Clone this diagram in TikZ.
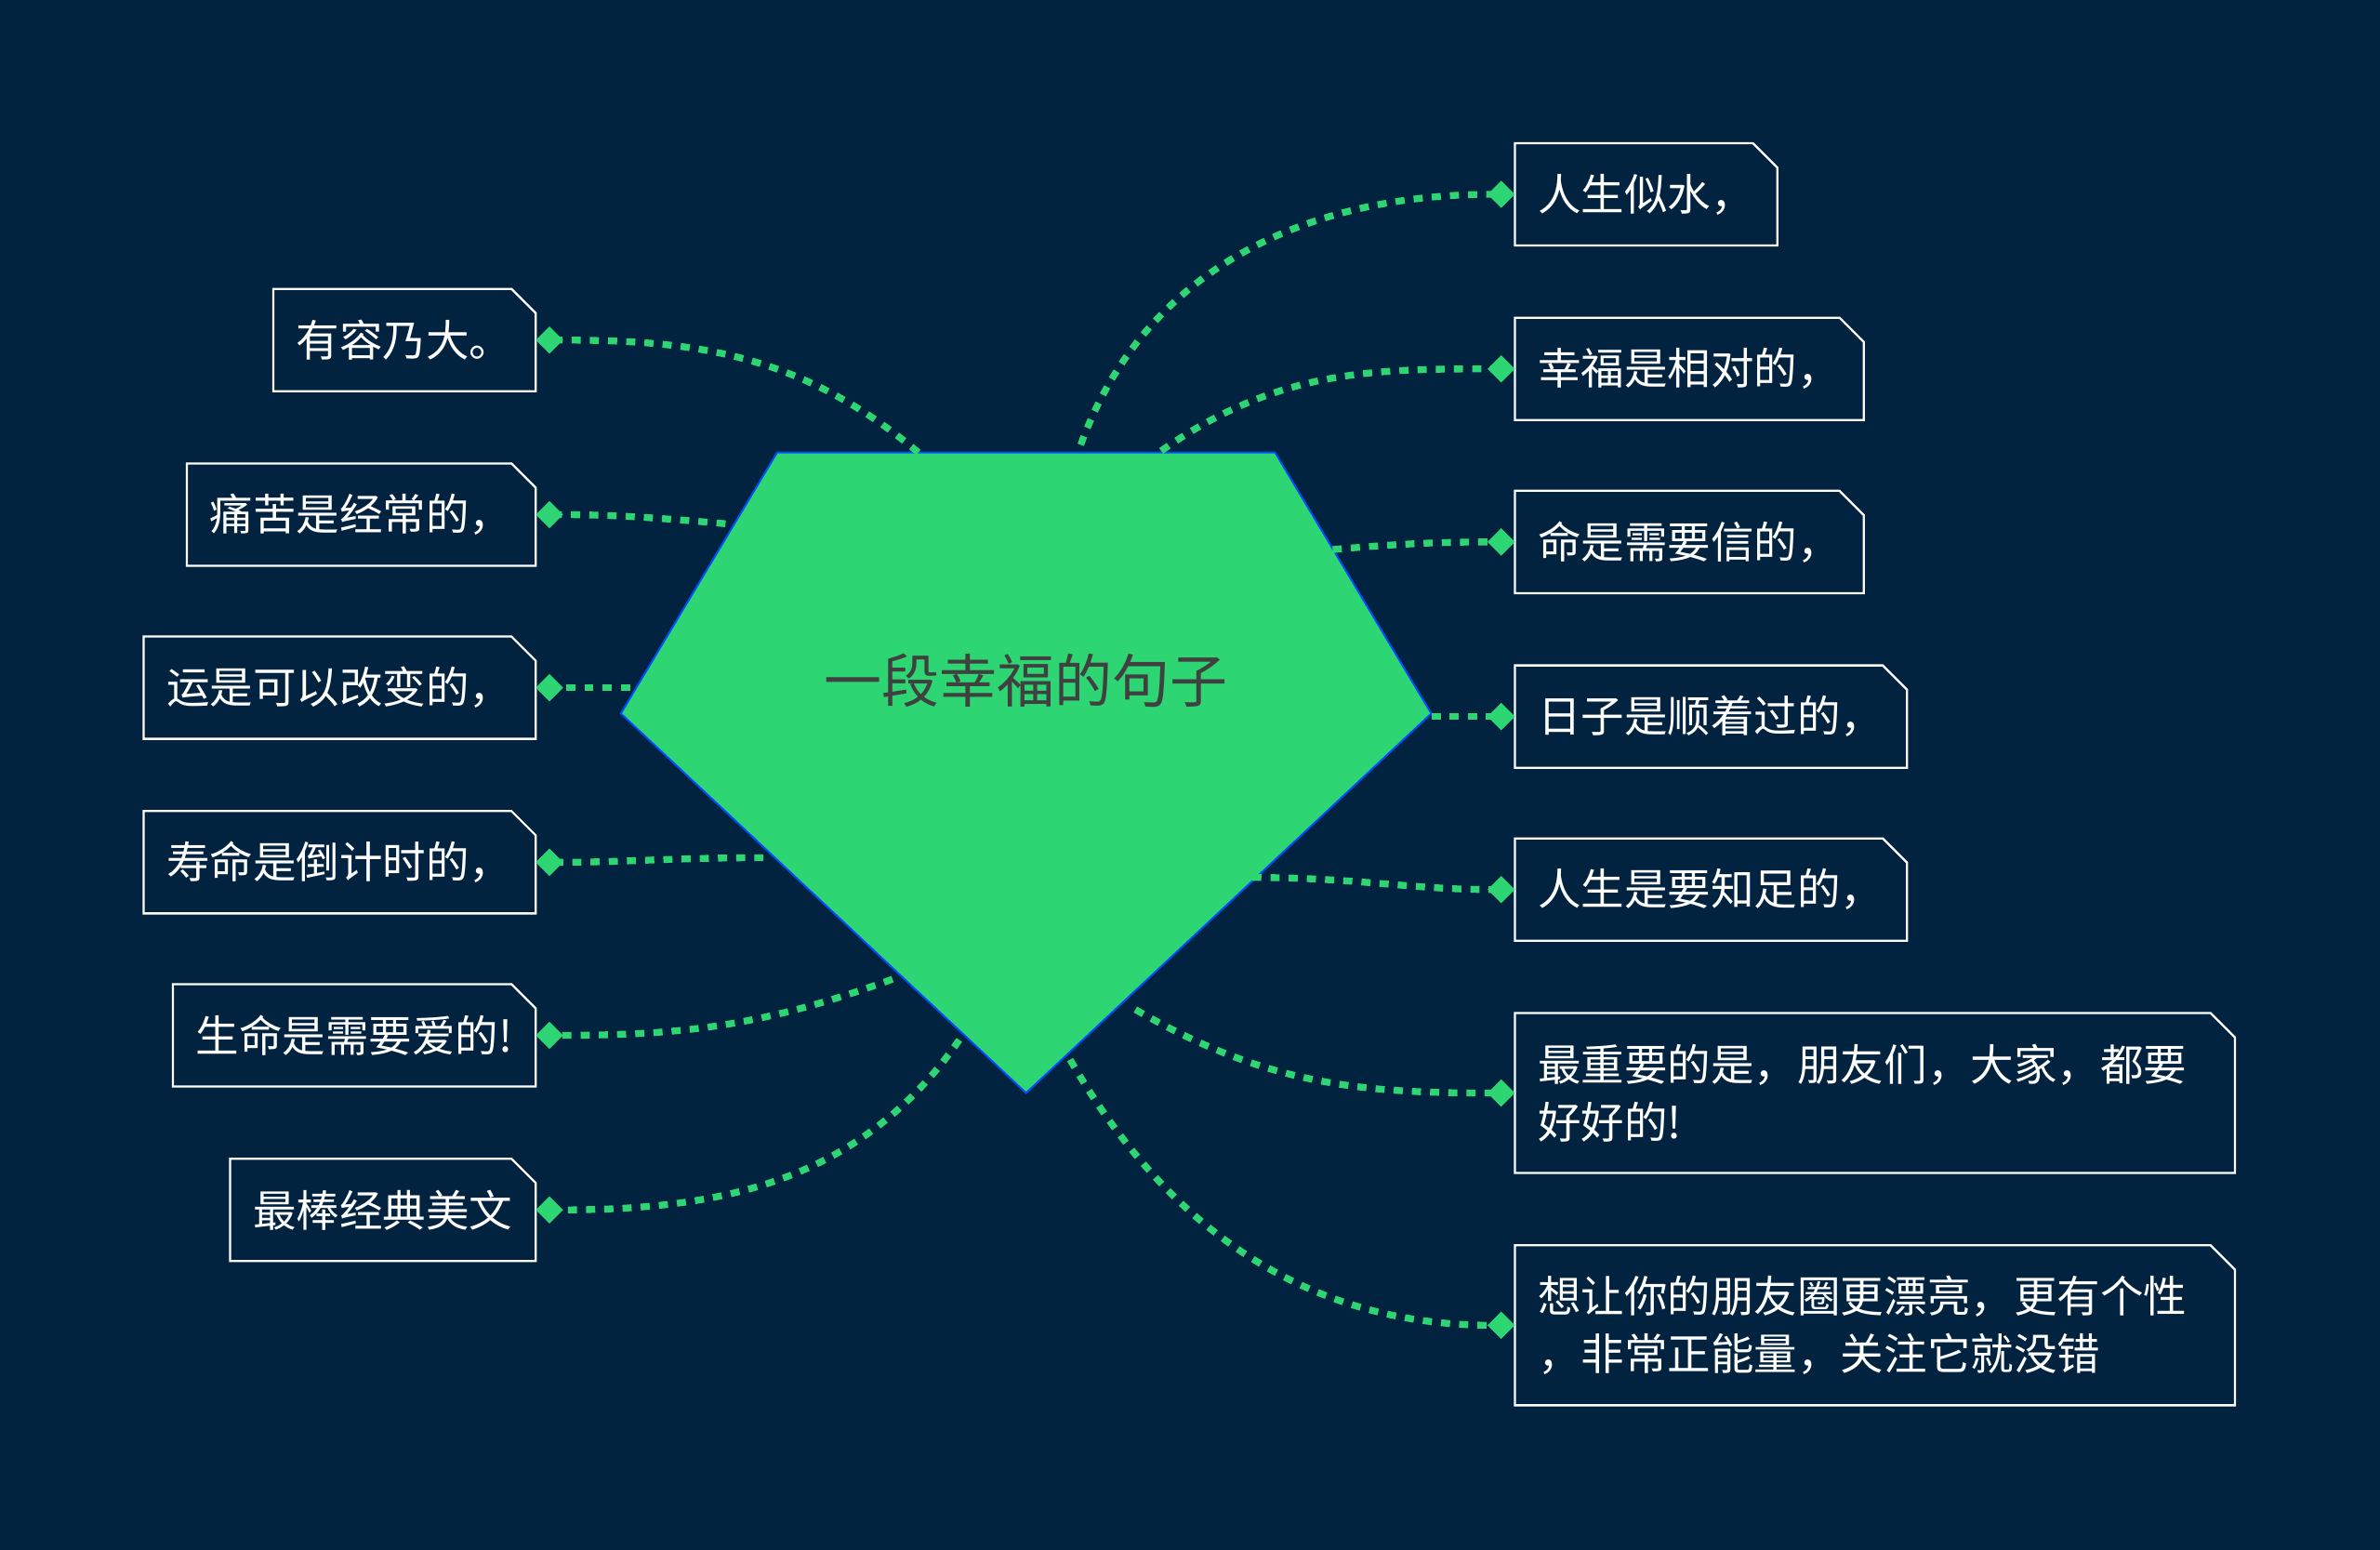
\documentclass[tikz,border=0pt]{standalone}
\usepackage{fontspec}
\setmainfont{Noto Sans CJK SC}
\usetikzlibrary{positioning,calc,arrows.meta}
\definecolor{bgblue}{HTML}{012340}
\definecolor{leafgreen}{HTML}{2ED573}
\tikzset{
  leaf/.style = {font=\fontsize{28.5}{38}\selectfont, text=white, minimum height=67pt, inner xsep=15pt, align=left},
  link/.style = {leafgreen, line width=4.5pt, dash pattern=on 6pt off 6pt, -{Diamond[length=18pt,width=18pt,fill=leafgreen]}},
}
\newcommand{\foldbox}[1]{\draw[white, line width=1.4pt] (#1.south west) -- (#1.north west) -- ([xshift=-16pt]#1.north east) -- ([yshift=-16pt]#1.north east) -- (#1.south east) -- cycle;}
\begin{document}
\begin{tikzpicture}[x=1pt, y=-1pt]
  \fill[bgblue] (0,0) rectangle (1568,1021);
  \useasboundingbox (0,0) rectangle (1568,1021);
  % centre
  \draw[fill=leafgreen, draw=blue!70!cyan, line width=1.2pt]
    (512,298) coordinate (p1) -- (840,298) coordinate (p2) -- (943,470) coordinate (p3)
    -- (676,720) coordinate (p4) -- (409,470) coordinate (p5) -- cycle;
  \node[font=\fontsize{38}{42}\selectfont, text=black!75] (root) at (676,448) {一段幸福的句子};
  % left leaves
  \node[leaf, anchor=east] (l1) at (353,224) {有容乃大。};
  \node[leaf, anchor=east] (l2) at (353,339) {痛苦是经常的，};
  \node[leaf, anchor=east] (l3) at (353,453) {运是可以改变的，};
  \node[leaf, anchor=east] (l4) at (353,568) {寿命是倒计时的，};
  \node[leaf, anchor=east] (l5) at (353,682) {生命是需要爱的!};
  \node[leaf, anchor=east] (l6) at (353,797) {最棒经典美文};
  % right leaves
  \node[leaf, anchor=west] (r1) at (998,128) {人生似水，};
  \node[leaf, anchor=west] (r2) at (998,243) {幸福是相对的，};
  \node[leaf, anchor=west] (r3) at (998,357) {命是需要信的，};
  \node[leaf, anchor=west] (r4) at (998,472) {日子是顺着过的，};
  \node[leaf, anchor=west] (r5) at (998,586) {人生是要知足的，};
  \node[leaf, anchor=west, text width=444pt, minimum height=105pt] (r6) at (998,720) {最重要的是，朋友们，大家，都要\\好好的!};
  \node[leaf, anchor=west, text width=444pt, minimum height=105pt] (r7) at (998,873) {想让你的朋友圈更漂亮，更有个性\\，非常正能量，关注它就没错};
  \foreach \n in {l1,l2,l3,l4,l5,l6,r1,r2,r3,r4,r5,r6,r7} {\foldbox{\n}}
  % start points on the pentagon
  \coordinate (sl1) at (605,298);
  \coordinate (sl2) at (478,345);
  \coordinate (sl3) at (415,453);
  \coordinate (sl4) at (503,565);
  \coordinate (sl5) at (588,645);
  \coordinate (sl6) at (632,685);
  \coordinate (sr1) at (712,293);
  \coordinate (sr2) at (765,297);
  \coordinate (sr3) at (878,362);
  \coordinate (sr4) at (943,472);
  \coordinate (sr5) at (825,578);
  \coordinate (sr6) at (748,665);
  \coordinate (sr7) at (705,698);
  \draw[link] (sl1) to[out=140, in=0] (l1.east);
  \draw[link] (sl2) to[out=175, in=0] (l2.east);
  \draw[link] (sl3) to[out=180, in=0] (l3.east);
  \draw[link] (sl4) to[out=180, in=0] (l4.east);
  \draw[link] (sl5) to[out=200, in=0] (l5.east);
  \draw[link] (sl6) to[out=235, in=0] (l6.east);
  \draw[link] (sr1) to[out=70, in=180] (r1.west);
  \draw[link] (sr2) to[out=35, in=180] (r2.west);
  \draw[link] (sr3) to[out=5, in=180] (r3.west);
  \draw[link] (sr4) to[out=0, in=180] (r4.west);
  \draw[link] (sr5) to[out=0, in=180] (r5.west);
  \draw[link] (sr6) to[out=-30, in=180] (r6.west);
  \draw[link] (sr7) to[out=-60, in=180] (r7.west);
\end{tikzpicture}
\end{document}
